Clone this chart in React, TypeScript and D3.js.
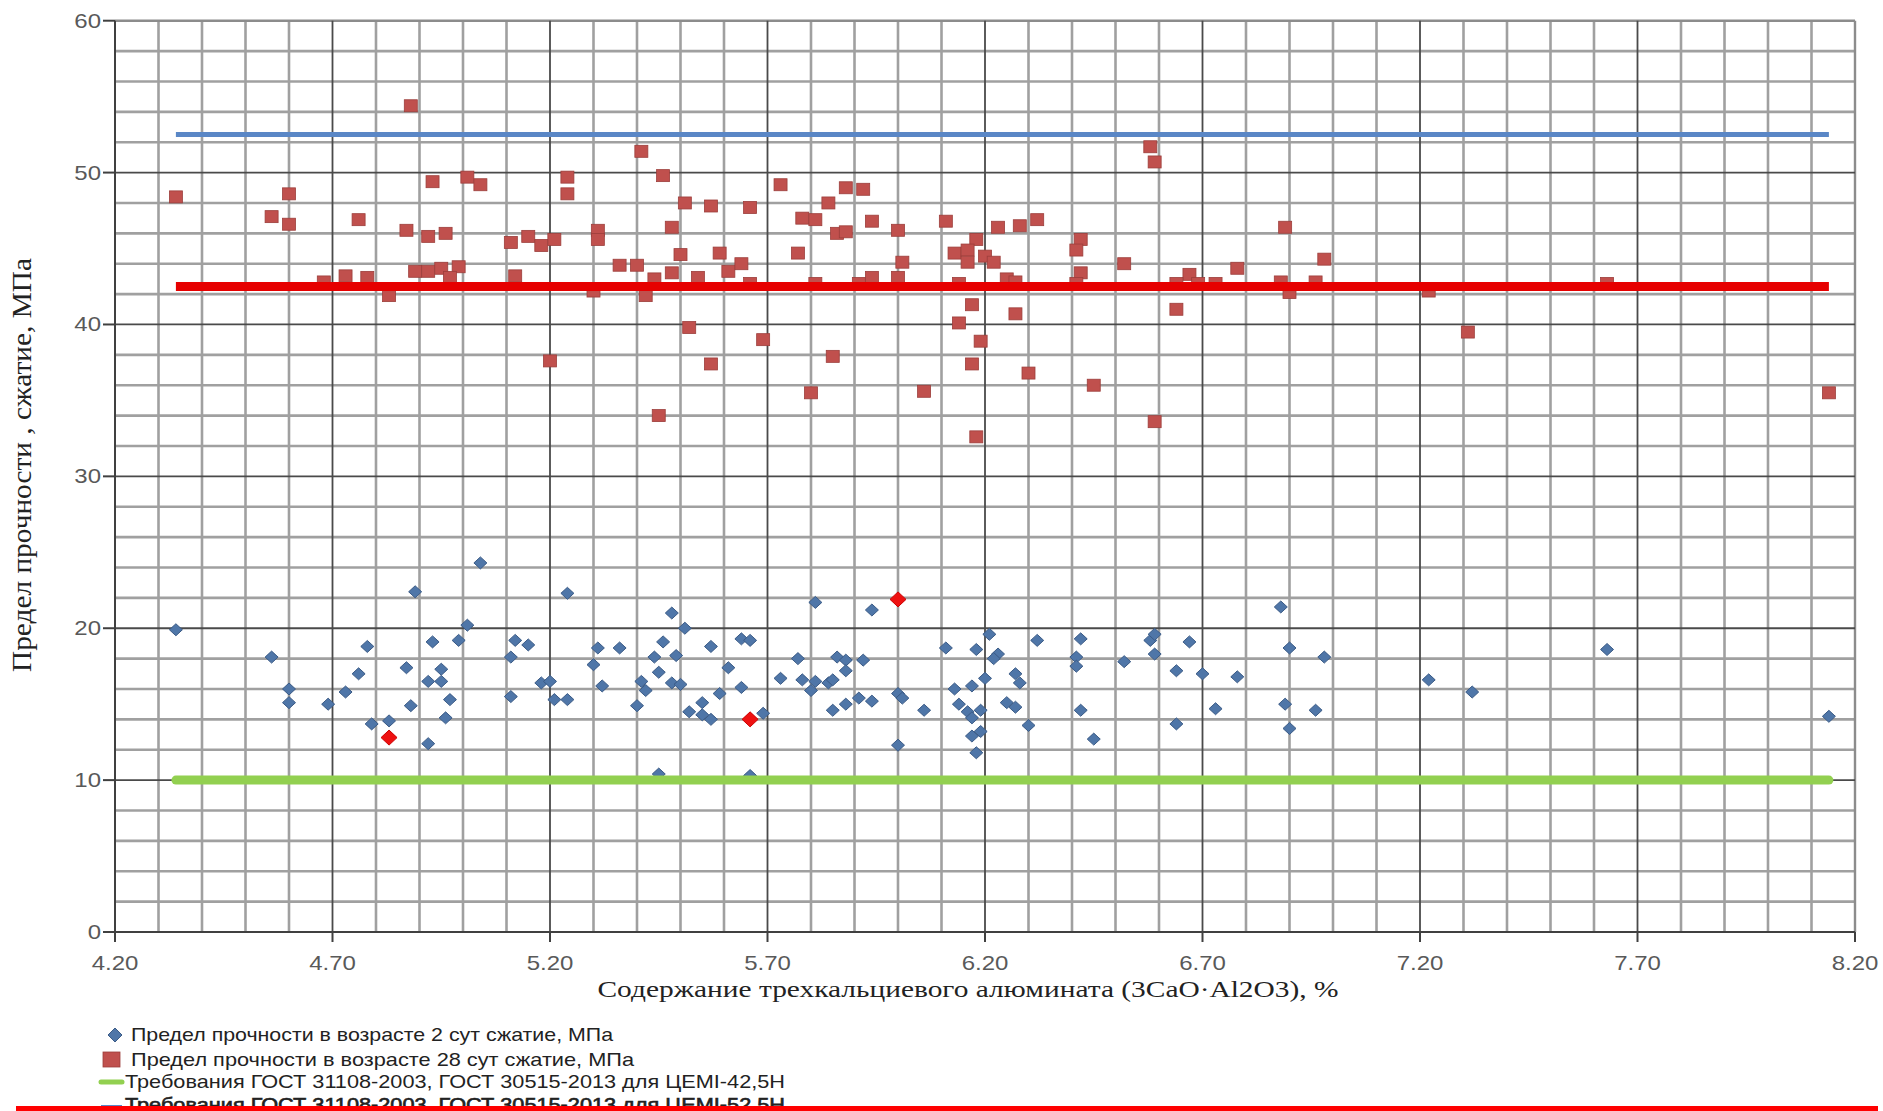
import React from "react";
import * as d3 from "d3";

// ---- data ----
const day2X = [4.34,4.56,4.60,4.60,4.69,4.73,4.76,4.78,4.79,4.83,4.87,4.89,4.88,4.92,4.93,4.92,4.95,4.95,4.97,4.96,4.99,5.01,5.04,5.11,5.12,5.15,5.11,5.18,5.20,5.21,5.24,5.24,5.31,5.30,5.32,5.36,5.41,5.42,5.40,5.44,5.46,5.45,5.49,5.48,5.51,5.48,5.50,5.55,5.52,5.55,5.57,5.57,5.45,
  5.59,5.61,5.64,5.66,5.64,5.69,5.66,5.73,5.77,5.78,5.80,5.81,5.81,5.84,5.85,5.86,5.88,5.88,5.85,5.88,5.91,5.92,5.94,5.94,6.00,6.01,6.00,6.06,6.11,6.13,6.14,6.17,6.18,6.16,6.17,6.19,6.19,6.17,6.18,6.20,6.21,6.23,6.22,6.27,6.28,6.25,6.27,6.30,6.32,6.42,6.41,6.41,6.42,6.45,6.52,6.58,6.59,6.59,6.67,6.64,6.64,6.70,6.73,6.78,6.88,6.90,6.89,6.90,
  6.98,6.96,7.22,7.32,7.63,8.14];
const day2Y = [19.9,18.1,16.0,15.1,15.0,15.8,17.0,18.8,13.7,13.9,17.4,22.4,14.9,12.4,19.1,16.5,17.3,16.5,15.3,14.1,19.2,20.2,24.3,18.1,19.2,18.9,15.5,16.4,16.5,15.3,15.3,22.3,18.7,17.6,16.2,18.7,16.5,15.9,14.9,18.1,19.1,17.1,18.2,21.0,20.0,16.4,16.3,15.1,14.5,14.3,14.0,18.8,10.4,
  15.7,17.4,19.3,19.2,16.1,14.4,10.3,16.7,18.0,16.6,15.9,16.5,21.7,16.4,16.6,18.1,17.9,17.2,14.6,15.0,15.4,17.9,15.2,21.2,15.7,15.4,12.3,14.6,18.7,16.0,15.0,16.2,18.6,14.5,14.1,14.6,13.2,12.9,11.8,16.7,19.6,18.3,18.0,17.0,16.4,15.1,14.8,13.6,19.2,19.3,18.1,17.5,14.6,12.7,17.8,19.2,19.6,18.3,19.1,17.2,13.7,17.0,14.7,16.8,21.4,18.7,15.0,13.4,
  18.1,14.6,16.6,15.8,18.6,14.2];

const day28X = [4.34,4.60,4.56,4.60,4.76,4.88,4.93,5.01,5.04,4.87,4.92,4.96,5.24,5.24,5.41,5.46,5.51,5.57,5.48,5.50,5.11,5.15,5.18,5.21,5.31,5.31,5.36,5.40,5.12,4.73,4.78,4.68,4.89,4.92,4.95,4.99,4.97,4.83,5.30,5.42,5.44,5.48,5.54,5.52,5.20,5.57,5.45,
  5.66,5.73,5.59,5.61,5.64,5.66,5.69,5.77,5.78,5.81,5.84,5.88,5.92,5.86,5.88,5.94,6.00,6.01,5.81,5.94,6.00,5.91,5.85,5.80,6.06,6.11,6.18,6.13,6.16,6.16,6.20,6.22,6.23,6.28,6.32,6.14,6.25,6.27,6.17,6.27,6.14,6.19,6.17,6.30,6.18,6.45,6.42,6.41,6.42,6.41,6.52,6.58,6.59,6.59,6.64,6.67,6.64,6.69,6.73,6.78,6.89,6.88,6.90,
  6.98,6.96,7.22,7.31,7.63,8.14];
const day28Y = [48.4,48.6,47.1,46.6,46.9,54.4,49.4,49.7,49.2,46.2,45.8,46.0,49.7,48.6,51.4,49.8,48.0,47.8,46.4,44.6,45.4,45.8,45.2,45.6,46.2,45.6,43.9,43.9,43.2,43.2,43.1,42.8,43.5,43.5,43.7,43.8,43.1,41.9,42.2,41.9,43.0,43.4,43.1,39.8,37.6,37.4,34.0,
  47.7,49.2,44.7,43.5,44.0,42.7,39.0,44.7,47.0,46.9,48.0,49.0,48.9,46.0,46.1,46.8,46.2,44.1,42.7,43.1,43.1,42.7,37.9,35.5,35.6,46.8,45.6,44.7,44.9,44.1,44.5,44.1,46.4,46.5,46.9,42.7,43.0,42.8,41.3,40.7,40.1,38.9,37.4,36.8,32.6,36.0,45.6,44.9,43.4,42.7,44.0,51.7,50.7,33.6,41.0,43.3,42.7,42.7,42.7,43.7,46.4,42.8,42.1,
  44.3,42.8,42.2,39.5,42.7,35.5];

const highlightX = [4.83, 5.66, 6.00];
const highlightY = [12.8, 14.0, 21.9];

const limit42 = 10;    // green: ГОСТ 42,5Н, 2 сут
const limit52 = 52.5;  // blue
const limit28 = 42.5;  // red

const xTickValues = [4.2, 4.7, 5.2, 5.7, 6.2, 6.7, 7.2, 7.7, 8.2];
const xTickLabels = ["4.20", "4.70", "5.20", "5.70", "6.20", "6.70", "7.20", "7.70", "8.20"];
const yTickValues = [0, 10, 20, 30, 40, 50, 60];

const legendLabels = [
  "Предел прочности в возрасте 2 сут сжатие, МПа",
  "Предел прочности в возрасте 28 сут  сжатие, МПа",
  "Требования ГОСТ 31108-2003, ГОСТ 30515-2013 для ЦЕМI-42,5Н",
  "Требования ГОСТ 31108-2003, ГОСТ 30515-2013 для ЦЕМI-52,5Н",
];

const xTitle = "Содержание трехкальциевого алюмината (3CaO·Al2O3), %";
const yTitle = "Предел прочности , сжатие, МПа";

const SANS = "'Liberation Sans', Arial, sans-serif";
const SERIF = "'Liberation Serif', 'Times New Roman', serif";

function SText(props: any) {
  const { x, y, size, anchor = "start", fill = "#000", family = SANS, len, sx = 1.2, rotate, children, weight, stroke, strokeWidth } = props;
  const tr = `translate(${x},${y}) scale(${sx},1)` + (rotate ? ` rotate(${rotate})` : "");
  return (
    <text
      transform={tr}
      fontSize={size}
      textAnchor={anchor}
      fill={fill}
      stroke={stroke}
      strokeWidth={strokeWidth}
      fontFamily={family}
      fontWeight={weight}
      textLength={len}
      lengthAdjust={len ? "spacingAndGlyphs" : undefined}
    >
      {children}
    </text>
  );
}

function diamond(cx: number, cy: number, w: number, h: number) {
  return `M${cx},${cy - h / 2}L${cx + w / 2},${cy}L${cx},${cy + h / 2}L${cx - w / 2},${cy}Z`;
}

export default function App() {
  const x = d3.scaleLinear().domain([4.2, 8.2]).range([115, 1855]);
  const y = d3.scaleLinear().domain([0, 60]).range([932, 20.7]);

  const vGrid = d3.range(0, 41).map((i) => ({ v: 4.2 + i * 0.1, i }));
  const hGrid = d3.range(0, 31).map((i) => ({ v: i * 2, i }));

  const xMin = d3.min(day28X) as number;
  const xMax = d3.max(day28X) as number;

  const line = d3.line<[number, number]>().x((d) => x(d[0])).y((d) => y(d[1]));

  const [x0, x1] = x.range();
  const [yb, yt] = y.range();

  return (
    <svg width={1883} height={1111} style={{ position: "absolute", left: 0, top: 0, background: "#fff" }}>
      <rect x={0} y={0} width={1883} height={1111} fill="#fff" />
      {/* minor grid */}
      <g>
        {vGrid.filter((g) => g.i % 5 !== 0).map((g) => (
          <line key={"v" + g.i} x1={x(g.v)} x2={x(g.v)} y1={yt} y2={yb} stroke="#a0a0a0" strokeWidth={2.6} />
        ))}
        {hGrid.filter((g) => g.v % 10 !== 0).map((g) => (
          <line key={"h" + g.i} x1={x0} x2={x1} y1={y(g.v)} y2={y(g.v)} stroke="#a0a0a0" strokeWidth={2.6} />
        ))}
        <line x1={x0} x2={x1} y1={yt} y2={yt} stroke="#8c8c8c" strokeWidth={2.4} />
        <line x1={x1} x2={x1} y1={yt} y2={yb} stroke="#8c8c8c" strokeWidth={2.4} />
      </g>
      {/* major grid */}
      <g>
        {vGrid.filter((g) => g.i % 5 === 0 && g.i > 0 && g.i < 40).map((g) => (
          <line key={"V" + g.i} x1={x(g.v)} x2={x(g.v)} y1={yt} y2={yb} stroke="#4a4a4a" strokeWidth={1.8} />
        ))}
        {hGrid.filter((g) => g.v % 10 === 0 && g.v > 0 && g.v < 60).map((g) => (
          <line key={"H" + g.i} x1={x0} x2={x1} y1={y(g.v)} y2={y(g.v)} stroke="#4a4a4a" strokeWidth={1.8} />
        ))}
      </g>
      {/* axes */}
      <line x1={x0} x2={x0} y1={yt} y2={yb} stroke="#404040" strokeWidth={2} />
      <line x1={x0} x2={x1} y1={yb} y2={yb} stroke="#404040" strokeWidth={2} />
      {yTickValues.map((v) => (
        <g key={"yt" + v}>
          <line x1={x0 - 12} x2={x0} y1={y(v)} y2={y(v)} stroke="#404040" strokeWidth={2} />
          <SText x={101} y={y(v) + 7} size={20} anchor="end" fill="#595959">{String(v)}</SText>
        </g>
      ))}
      {xTickValues.map((v, i) => (
        <g key={"xt" + i}>
          <line x1={x(v)} x2={x(v)} y1={yb} y2={yb + 10} stroke="#404040" strokeWidth={2} />
          <SText x={x(v)} y={970} size={20} anchor="middle" fill="#595959">{xTickLabels[i]}</SText>
        </g>
      ))}

      {/* 2-day series */}
      <g>
        {day2X.map((v, i) => (
          <path key={"b" + i} d={diamond(x(v), y(day2Y[i]), 13, 12)} fill="#4f76a8" stroke="#3b5b86" strokeWidth={1} />
        ))}
      </g>
      {/* 28-day series */}
      <g>
        {day28X.map((v, i) => (
          <rect key={"r" + i} x={x(v) - 6.5} y={y(day28Y[i]) - 6} width={13} height={12} fill="#c0504d" stroke="#9c3e3b" strokeWidth={0.8} />
        ))}
      </g>

      {/* requirement lines */}
      <path d={line([[xMin, limit42], [xMax, limit42]]) as string} stroke="#92d050" strokeWidth={9} strokeLinecap="round" fill="none" />
      <path d={line([[xMin, limit52], [xMax, limit52]]) as string} stroke="#5a87c6" strokeWidth={5} fill="none" />
      <path d={line([[xMin, limit28], [xMax, limit28]]) as string} stroke="#e60000" strokeWidth={9} fill="none" />

      {/* highlighted points */}
      {highlightX.map((v, i) => (
        <path key={"hl" + i} d={diamond(x(v), y(highlightY[i]), 16, 15)} fill="#ee1111" stroke="#cc0000" strokeWidth={1} />
      ))}

      {/* axis titles */}
      <SText x={968} y={997} size={23} anchor="middle" family={SERIF} fill="#222" len={741 / 1.2}>{xTitle}</SText>
      <SText x={31} y={465} size={23} anchor="middle" family={SERIF} fill="#222" rotate={-90} len={414}>{yTitle}</SText>

      {/* legend */}
      <path d={diamond(115, 1035, 14, 14)} fill="#4f76a8" stroke="#3b5b86" strokeWidth={1} />
      <SText x={131} y={1041} size={18} fill="#222" len={482 / 1.2}>{legendLabels[0]}</SText>
      <rect x={103} y={1052} width={17} height={15} fill="#c0504d" stroke="#9c3e3b" strokeWidth={0.8} />
      <SText x={131} y={1066} size={18} fill="#222" len={503 / 1.2}>{legendLabels[1]}</SText>
      <line x1={101} x2={122} y1={1082} y2={1082} stroke="#92d050" strokeWidth={5} strokeLinecap="round" />
      <SText x={125} y={1088} size={18} fill="#222" len={660 / 1.2}>{legendLabels[2]}</SText>
      <line x1={101} x2={122} y1={1107} y2={1107} stroke="#5a87c6" strokeWidth={4} />
      <SText x={125} y={1111} size={18} fill="#222" stroke="#222" strokeWidth={0.6} len={660 / 1.2}>{legendLabels[3]}</SText>

      <rect x={16} y={1106} width={1862} height={5} fill="#ff0000" />
    </svg>
  );
}
